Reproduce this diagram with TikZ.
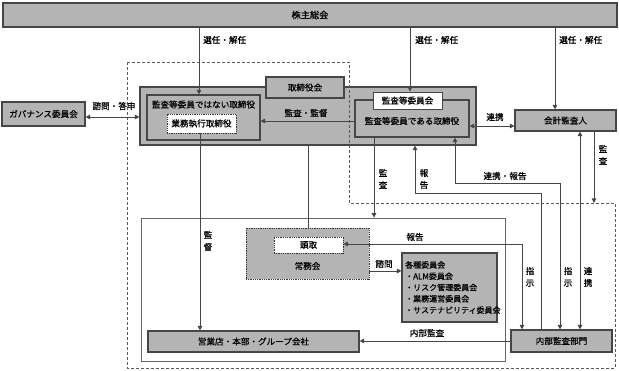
\documentclass[tikz,border=0pt]{standalone}
\usepackage{fontspec}
\setmainfont{Noto Sans CJK JP}[FakeBold=0.7]
\usetikzlibrary{arrows.meta}
\definecolor{boxgray}{RGB}{180,180,180}
\definecolor{linegray}{RGB}{70,70,70}
\newcommand{\lblfont}{\fontsize{8.6}{12}\selectfont}
\tikzset{
  gbox/.style={draw=linegray, line width=1.1pt, fill=boxgray, inner sep=0pt, font=\lblfont},
  wbox/.style={draw=linegray, line width=0.9pt, fill=white, inner sep=0pt, font=\lblfont},
  wdot/.style={draw=black!80, densely dotted, line width=0.8pt, fill=white, inner sep=0pt, font=\lblfont},
  gdot/.style={draw=black!80, densely dotted, line width=0.8pt, fill=boxgray, inner sep=0pt},
  region/.style={draw=black!65, line width=0.8pt, dash pattern=on 3pt off 2pt},
  conn/.style={draw=linegray, line width=0.9pt},
  tip/.tip={Triangle[length=4.5pt,width=4.5pt]},
  arr/.style={conn, -tip},
  darr/.style={conn, tip-tip},
  lbl/.style={font=\lblfont, inner sep=0pt, align=center},
}
\begin{document}
\begin{tikzpicture}[x=1pt,y=-1pt]
\useasboundingbox (0,0) rectangle (619,371);
\coordinate (dashline) at (594,203);
% inner white box
\node[draw=black!60, line width=0.8pt, fill=white, minimum width=364pt, minimum height=143pt, inner sep=0pt] (inner) at (323,289.5) {};
% top box
\node[gbox, minimum width=614pt, minimum height=24pt, font=\fontsize{9.2}{11}\selectfont] (kabu) at (310,15) {株主総会};
\node[gbox, minimum width=83pt, minimum height=24pt] (gov) at (43.5,114) {ガバナンス委員会};
% board region
\node[gbox, minimum width=336pt, minimum height=58pt] (board) at (308,116) {};
\node[gbox, minimum width=78pt, minimum height=21pt] (tab) at (305,87.5) {取締役会};
\node[gbox, minimum width=113pt, minimum height=45pt] (nonaudit) at (203.5,117.5) {};
\node[lbl] at (203.5,104.5) {監査等委員ではない取締役};
\node[wdot, minimum width=69pt, minimum height=19pt] (gyomu) at (201.5,123.5) {業務執行取締役};
\node[gbox, minimum width=114pt, minimum height=37pt] (audit) at (412,118.5) {};
\node[lbl] at (412,121) {監査等委員である取締役};
\node[wbox, minimum width=69pt, minimum height=17pt] (kansakai) at (407.5,100.5) {監査等委員会};
\node[gbox, minimum width=101pt, minimum height=21pt] (kaikei) at (565.5,120.5) {会計監査人};
% lower
\node[gdot, minimum width=123pt, minimum height=51pt] (jomu) at (307.5,253.5) {};
\node[lbl] at (307.5,266) {常務会};
\node[wdot, minimum width=69pt, minimum height=16pt] (todori) at (308.5,245) {頭取};
\node[gbox, minimum width=95pt, minimum height=69pt] (kakushu) at (449.5,287.5) {};
\node[font=\fontsize{8}{11.3}\selectfont, inner sep=0pt, align=left, anchor=west] at (405,287.5) {各種委員会\\・ALM委員会\\・リスク管理委員会\\・業務運営委員会\\・サステナビリティ委員会};
\node[gbox, minimum width=211pt, minimum height=21pt] (eigyo) at (253.5,341.5) {営業店・本部・グループ会社};
\node[gbox, minimum width=101pt, minimum height=22pt] (naibu) at (561.5,341) {内部監査部門};
% dashed region (drawn over the boxes)
\draw[region] (127,62) -- (349,62) -- (349,203) -- (615,203) -- (615,368) -- (127,368) -- cycle;
% connectors from kabu
\draw[arr] (199,0 |- kabu.south) -- (199,0 |- nonaudit.north);
\draw[arr] (410,0 |- kabu.south) -- (410,0 |- kansakai.north);
\draw[arr] (555,0 |- kabu.south) -- (555,0 |- kaikei.north);
\node[lbl, anchor=west] at (203,40) {選任・解任};
\node[lbl, anchor=west] at (415,40) {選任・解任};
\node[lbl, anchor=west] at (559,40) {選任・解任};
% governance
\draw[darr] (gov.east |- 0,117) -- (board.west |- 0,117);
\node[lbl] at (114,106) {諮問・答申};
% audit -> nonaudit
\draw[arr] (audit.west |- 0,121) -- (nonaudit.east |- 0,121);
\node[lbl] at (306,113) {監査・監督};
% audit <-> kaikei
\draw[darr] (audit.east |- 0,126) -- (kaikei.west |- 0,126);
\node[lbl] at (495,117) {連携};
% kaikei -> dashed line
\draw[arr] (kaikei.south -| dashline) -- (dashline);
\node[lbl] at (603,155) {監\\査};
% gyomu -> eigyo
\draw[arr] (200,0 |- gyomu.south) -- (200,0 |- eigyo.north);
\node[lbl] at (208,241) {監\\督};
% board -> jomu
\draw[conn] (308,0 |- board.south) -- (308,0 |- jomu.north);
% audit -> inner
\draw[arr] (374,0 |- audit.south) -- (374,0 |- inner.north);
\node[lbl] at (383,179) {監\\査};
% naibu -> board (報告)
\draw[arr] (541,0 |- naibu.north) -- (541,193) -- (415,193) -- (415,0 |- board.south);
\node[lbl] at (424,179) {報\\告};
% naibu <-> audit (連携・報告 / 指示)
\draw[darr] (560,0 |- naibu.north) -- (560,183) -- (455,183) -- (455,0 |- audit.south);
\node[lbl] at (505,176) {連携・報告};
\node[lbl] at (568,277) {指\\示};
% kaikei <-> naibu
\draw[darr] (580,0 |- kaikei.south) -- (580,0 |- naibu.north);
\node[lbl] at (588,277) {連\\携};
% todori <-> naibu
\draw[darr] (todori.east |- 0,244) -- (522,244) -- (522,0 |- naibu.north);
\node[lbl] at (415,237) {報告};
\node[lbl] at (530,277) {指\\示};
% jomu -> kakushu
\draw[arr] (jomu.east |- 0,271) -- (kakushu.west |- 0,271);
\node[lbl] at (384,264) {諮問};
% naibu -> eigyo
\draw[arr] (naibu.west |- 0,341) -- (eigyo.east |- 0,341);
\node[lbl] at (427,333) {内部監査};
\end{tikzpicture}
\end{document}
